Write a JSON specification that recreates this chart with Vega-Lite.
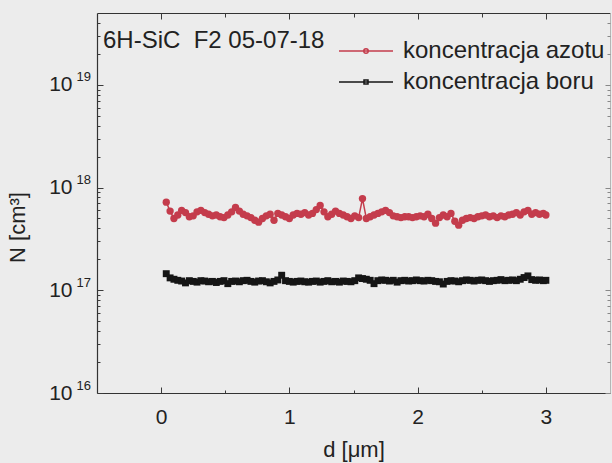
{
  "$schema": "https://vega.github.io/schema/vega-lite/v6.json",
  "width": 513,
  "height": 380,
  "autosize": {"type": "none"},
  "padding": {"left": 97, "top": 13, "right": 2, "bottom": 70},
  "background": "#ececec",
  "config": {
    "font": "Liberation Sans",
    "view": {"stroke": null},
    "axis": {"grid": false, "labelFont": "Liberation Sans", "titleFont": "Liberation Sans", "tickColor": "#3a3a3a", "tickWidth": 1}
  },
  "data": {
    "values": [
      {"d": 0.04, "azot": 7.2e17, "bor": 1.45e17},
      {"d": 0.07, "azot": 5.9e17, "bor": 1.32e17},
      {"d": 0.10, "azot": 5.0e17, "bor": 1.28e17},
      {"d": 0.13, "azot": 5.4e17, "bor": 1.25e17},
      {"d": 0.16, "azot": 6.0e17, "bor": 1.23e17},
      {"d": 0.19, "azot": 5.7e17, "bor": 1.18e17},
      {"d": 0.22, "azot": 5.2e17, "bor": 1.24e17},
      {"d": 0.25, "azot": 5.3e17, "bor": 1.22e17},
      {"d": 0.28, "azot": 5.8e17, "bor": 1.20e17},
      {"d": 0.31, "azot": 6.0e17, "bor": 1.24e17},
      {"d": 0.34, "azot": 5.7e17, "bor": 1.23e17},
      {"d": 0.37, "azot": 5.5e17, "bor": 1.21e17},
      {"d": 0.40, "azot": 5.3e17, "bor": 1.22e17},
      {"d": 0.43, "azot": 5.4e17, "bor": 1.19e17},
      {"d": 0.46, "azot": 5.2e17, "bor": 1.22e17},
      {"d": 0.49, "azot": 5.1e17, "bor": 1.24e17},
      {"d": 0.52, "azot": 5.4e17, "bor": 1.16e17},
      {"d": 0.55, "azot": 5.8e17, "bor": 1.22e17},
      {"d": 0.58, "azot": 6.4e17, "bor": 1.23e17},
      {"d": 0.61, "azot": 5.9e17, "bor": 1.21e17},
      {"d": 0.64, "azot": 5.5e17, "bor": 1.24e17},
      {"d": 0.67, "azot": 5.3e17, "bor": 1.25e17},
      {"d": 0.70, "azot": 5.1e17, "bor": 1.22e17},
      {"d": 0.73, "azot": 4.8e17, "bor": 1.20e17},
      {"d": 0.76, "azot": 4.6e17, "bor": 1.23e17},
      {"d": 0.79, "azot": 5.0e17, "bor": 1.24e17},
      {"d": 0.82, "azot": 5.3e17, "bor": 1.21e17},
      {"d": 0.85, "azot": 5.5e17, "bor": 1.18e17},
      {"d": 0.88, "azot": 4.8e17, "bor": 1.22e17},
      {"d": 0.91, "azot": 5.6e17, "bor": 1.26e17},
      {"d": 0.94, "azot": 5.4e17, "bor": 1.40e17},
      {"d": 0.97, "azot": 5.2e17, "bor": 1.24e17},
      {"d": 1.00, "azot": 5.0e17, "bor": 1.22e17},
      {"d": 1.03, "azot": 5.4e17, "bor": 1.20e17},
      {"d": 1.06, "azot": 5.6e17, "bor": 1.22e17},
      {"d": 1.09, "azot": 5.5e17, "bor": 1.23e17},
      {"d": 1.12, "azot": 5.7e17, "bor": 1.21e17},
      {"d": 1.15, "azot": 5.4e17, "bor": 1.20e17},
      {"d": 1.18, "azot": 5.6e17, "bor": 1.22e17},
      {"d": 1.21, "azot": 6.1e17, "bor": 1.23e17},
      {"d": 1.24, "azot": 6.7e17, "bor": 1.20e17},
      {"d": 1.27, "azot": 5.8e17, "bor": 1.22e17},
      {"d": 1.30, "azot": 5.2e17, "bor": 1.24e17},
      {"d": 1.33, "azot": 5.5e17, "bor": 1.21e17},
      {"d": 1.36, "azot": 5.9e17, "bor": 1.22e17},
      {"d": 1.39, "azot": 5.6e17, "bor": 1.20e17},
      {"d": 1.42, "azot": 5.4e17, "bor": 1.23e17},
      {"d": 1.45, "azot": 5.2e17, "bor": 1.22e17},
      {"d": 1.48, "azot": 5.0e17, "bor": 1.21e17},
      {"d": 1.51, "azot": 5.3e17, "bor": 1.24e17},
      {"d": 1.54, "azot": 5.1e17, "bor": 1.32e17},
      {"d": 1.57, "azot": 7.8e17, "bor": 1.30e17},
      {"d": 1.60, "azot": 5.0e17, "bor": 1.28e17},
      {"d": 1.63, "azot": 5.2e17, "bor": 1.25e17},
      {"d": 1.66, "azot": 5.4e17, "bor": 1.16e17},
      {"d": 1.69, "azot": 5.6e17, "bor": 1.24e17},
      {"d": 1.72, "azot": 5.8e17, "bor": 1.26e17},
      {"d": 1.75, "azot": 6.0e17, "bor": 1.25e17},
      {"d": 1.78, "azot": 5.7e17, "bor": 1.23e17},
      {"d": 1.81, "azot": 5.3e17, "bor": 1.25e17},
      {"d": 1.84, "azot": 5.2e17, "bor": 1.20e17},
      {"d": 1.87, "azot": 5.1e17, "bor": 1.24e17},
      {"d": 1.90, "azot": 5.2e17, "bor": 1.25e17},
      {"d": 1.93, "azot": 5.2e17, "bor": 1.23e17},
      {"d": 1.96, "azot": 5.1e17, "bor": 1.24e17},
      {"d": 1.99, "azot": 5.2e17, "bor": 1.26e17},
      {"d": 2.02, "azot": 5.3e17, "bor": 1.24e17},
      {"d": 2.05, "azot": 5.2e17, "bor": 1.23e17},
      {"d": 2.08, "azot": 5.5e17, "bor": 1.25e17},
      {"d": 2.11, "azot": 5.0e17, "bor": 1.24e17},
      {"d": 2.14, "azot": 4.5e17, "bor": 1.22e17},
      {"d": 2.17, "azot": 5.1e17, "bor": 1.21e17},
      {"d": 2.20, "azot": 5.4e17, "bor": 1.15e17},
      {"d": 2.23, "azot": 5.2e17, "bor": 1.22e17},
      {"d": 2.26, "azot": 5.6e17, "bor": 1.24e17},
      {"d": 2.29, "azot": 4.7e17, "bor": 1.23e17},
      {"d": 2.32, "azot": 4.3e17, "bor": 1.21e17},
      {"d": 2.35, "azot": 4.8e17, "bor": 1.24e17},
      {"d": 2.38, "azot": 5.0e17, "bor": 1.26e17},
      {"d": 2.41, "azot": 5.1e17, "bor": 1.25e17},
      {"d": 2.44, "azot": 5.0e17, "bor": 1.23e17},
      {"d": 2.47, "azot": 5.2e17, "bor": 1.25e17},
      {"d": 2.50, "azot": 5.3e17, "bor": 1.26e17},
      {"d": 2.53, "azot": 5.4e17, "bor": 1.24e17},
      {"d": 2.56, "azot": 5.2e17, "bor": 1.22e17},
      {"d": 2.59, "azot": 5.3e17, "bor": 1.24e17},
      {"d": 2.62, "azot": 5.1e17, "bor": 1.25e17},
      {"d": 2.65, "azot": 5.3e17, "bor": 1.27e17},
      {"d": 2.68, "azot": 5.2e17, "bor": 1.24e17},
      {"d": 2.71, "azot": 5.4e17, "bor": 1.25e17},
      {"d": 2.74, "azot": 5.5e17, "bor": 1.26e17},
      {"d": 2.77, "azot": 5.7e17, "bor": 1.24e17},
      {"d": 2.80, "azot": 5.4e17, "bor": 1.28e17},
      {"d": 2.83, "azot": 5.8e17, "bor": 1.33e17},
      {"d": 2.86, "azot": 6.0e17, "bor": 1.38e17},
      {"d": 2.89, "azot": 5.5e17, "bor": 1.27e17},
      {"d": 2.92, "azot": 5.7e17, "bor": 1.25e17},
      {"d": 2.95, "azot": 5.5e17, "bor": 1.26e17},
      {"d": 2.98, "azot": 5.6e17, "bor": 1.24e17},
      {"d": 3.00, "azot": 5.4e17, "bor": 1.25e17}
    ]
  },
  "layer": [
    {
      "transform": [{"fold": ["azot", "bor"], "as": ["s", "N"]}],
      "mark": {"type": "line", "strokeWidth": 1.5},
      "encoding": {
        "x": {
          "field": "d", "type": "quantitative",
          "scale": {"domain": [-0.5, 3.5], "nice": false, "zero": false},
          "axis": {
            "orient": "bottom", "values": [0, 1, 2, 3], "format": "d",
            "ticks": false, "tickSize": 0,
            "labelFontSize": 21, "labelColor": "#222", "labelPadding": 13,
            "labelFlush": false, "labelOverlap": false,
            "domainColor": "#333", "domainWidth": 1.2,
            "title": "d [μm]", "titleFontSize": 22, "titleFontWeight": "normal", "titleColor": "#222",
            "titleY": 56, "titleBaseline": "middle"
          }
        },
        "y": {
          "field": "N", "type": "quantitative",
          "scale": {"type": "log", "domain": [1e16, 5e19], "nice": false},
          "axis": {
            "orient": "left", "values": [1e16, 1e17, 1e18, 1e19],
            "ticks": false, "tickSize": 0,
            "labelExpr": "'10'",
            "labelFontSize": 21, "labelColor": "#222", "labelPadding": 25,
            "labelFlush": false, "labelOverlap": false, "labelBound": false,
            "domainColor": "#333", "domainWidth": 1.2,
            "title": "N [cm³]", "titleFontSize": 22, "titleFontWeight": "normal", "titleColor": "#222",
            "titleX": -80, "titleY": 214, "titleAlign": "center", "titleBaseline": "middle"
          }
        },
        "color": {
          "field": "s", "type": "nominal",
          "scale": {"domain": ["azot", "bor"], "range": ["#c43c4c", "#151515"]}
        }
      }
    },
    {
      "transform": [{"fold": ["azot", "bor"], "as": ["s", "N"]}, {"filter": "datum.s == 'azot'"}],
      "mark": {"type": "point", "filled": true, "shape": "circle", "size": 54, "opacity": 1, "color": "#c43c4c"},
      "encoding": {
        "x": {
          "field": "d", "type": "quantitative",
          "scale": {"domain": [-0.5, 3.5], "nice": false, "zero": false},
          "axis": {"orient": "top", "values": [0, 1, 2, 3], "ticks": false, "labels": false, "domainColor": "#333", "domainWidth": 1.2, "title": null}
        },
        "y": {
          "field": "N", "type": "quantitative",
          "scale": {"type": "log", "domain": [1e16, 5e19], "nice": false},
          "axis": {"orient": "right", "values": [1e16, 1e17, 1e18, 1e19], "ticks": false, "labels": false, "domainColor": "#b5b5b5", "domainWidth": 1, "title": null}
        }
      }
    },
    {
      "transform": [{"fold": ["azot", "bor"], "as": ["s", "N"]}, {"filter": "datum.s == 'bor'"}],
      "mark": {"type": "point", "filled": true, "shape": "square", "size": 48, "opacity": 1, "color": "#151515"},
      "encoding": {
        "x": {
          "field": "d", "type": "quantitative",
          "scale": {"domain": [-0.5, 3.5], "nice": false, "zero": false},
          "axis": {"orient": "bottom", "values": [0, 1, 2, 3], "tickSize": 6, "offset": -6, "labels": false, "domain": false, "title": null}
        },
        "y": {
          "field": "N", "type": "quantitative",
          "scale": {"type": "log", "domain": [1e16, 5e19], "nice": false},
          "axis": {"orient": "left", "values": [1e16, 1e17, 1e18, 1e19], "tickSize": 6, "offset": -6, "labels": false, "domain": false, "title": null}
        }
      }
    },
    {
      "data": {"values": [{"s": "azot"}, {"s": "bor"}]},
      "mark": {"type": "point", "filled": false, "clip": true, "strokeWidth": 1.5, "opacity": 1},
      "encoding": {
        "x": {
          "datum": -10, "type": "quantitative",
          "scale": {"domain": [-0.5, 3.5], "nice": false, "zero": false},
          "axis": {"orient": "top", "values": [0, 1, 2, 3], "tickSize": 6, "offset": -6, "labels": false, "domain": false, "title": null}
        },
        "y": {
          "datum": 1e17, "type": "quantitative",
          "scale": {"type": "log", "domain": [1e16, 5e19], "nice": false},
          "axis": {"orient": "right", "values": [1e16, 1e17, 1e18, 1e19], "tickSize": 5, "offset": -5, "tickColor": "#888", "labels": false, "domain": false, "title": null}
        },
        "color": {
          "field": "s", "type": "nominal",
          "scale": {"domain": ["azot", "bor"], "range": ["#c43c4c", "#151515"]},
          "legend": {
            "orient": "none", "legendX": 257, "legendY": 26, "title": null, "padding": 0,
            "labelFontSize": 24, "labelColor": "#222", "labelLimit": 0, "labelOffset": 25,
            "rowPadding": 7, "symbolSize": 100, "symbolStrokeWidth": 1.5,
            "labelExpr": "datum.value == 'azot' ? 'koncentracja azotu' : 'koncentracja boru'"
          }
        },
        "shape": {
          "field": "s", "type": "nominal",
          "scale": {"domain": ["azot", "bor"], "range": ["M-5.4,0H5.4M0.45,0A0.45,0.45,0,1,1,-0.45,0A0.45,0.45,0,1,1,0.45,0Z", "M-5.4,0H5.4M-0.4,-0.4H0.4V0.4H-0.4Z"]},
          "legend": {
            "orient": "none", "legendX": 257, "legendY": 26, "title": null, "padding": 0,
            "labelFontSize": 24, "labelColor": "#222", "labelLimit": 0, "labelOffset": 25,
            "rowPadding": 7, "symbolSize": 100, "symbolStrokeWidth": 1.5,
            "labelExpr": "datum.value == 'azot' ? 'koncentracja azotu' : 'koncentracja boru'"
          }
        }
      }
    },
    {
      "data": {"values": [{"label": "6H-SiC\u00a0\u00a0F2 05-07-18"}]},
      "mark": {"type": "text", "align": "left", "baseline": "alphabetic", "dx": 6, "dy": 35, "fontSize": 24, "color": "#222"},
      "encoding": {
        "x": {
          "datum": -0.5, "type": "quantitative",
          "scale": {"domain": [-0.5, 3.5], "nice": false, "zero": false},
          "axis": {"orient": "bottom", "values": [0.5, 1.5, 2.5], "tickSize": 3, "offset": -3, "labels": false, "domain": false, "title": null}
        },
        "y": {
          "datum": 5e19, "type": "quantitative",
          "scale": {"type": "log", "domain": [1e16, 5e19], "nice": false},
          "axis": {
            "orient": "left", "values": [1e16, 1e17, 1e18, 1e19],
            "ticks": false, "tickSize": 0, "domain": false,
            "labelExpr": "'' + round(log(datum.value)/LN10)",
            "labelAlign": "left", "labelBaseline": "bottom", "labelOffset": -1,
            "labelFontSize": 13, "labelColor": "#222", "labelPadding": 21,
            "labelFlush": false, "labelOverlap": false, "labelBound": false,
            "title": null
          }
        },
        "text": {"field": "label"}
      }
    },
    {
      "data": {"values": [{"label": ""}]},
      "mark": {"type": "text"},
      "encoding": {
        "x": {
          "datum": 0, "type": "quantitative",
          "scale": {"domain": [-0.5, 3.5], "nice": false, "zero": false},
          "axis": {"orient": "top", "values": [0.5, 1.5, 2.5], "tickSize": 4, "offset": -4, "labels": false, "domain": false, "title": null}
        },
        "y": {
          "datum": 1e17, "type": "quantitative",
          "scale": {"type": "log", "domain": [1e16, 5e19], "nice": false},
          "axis": {
            "orient": "left",
            "values": [2e16, 3e16, 4e16, 5e16, 6e16, 7e16, 8e16, 9e16, 2e17, 3e17, 4e17, 5e17, 6e17, 7e17, 8e17, 9e17, 2e18, 3e18, 4e18, 5e18, 6e18, 7e18, 8e18, 9e18, 2e19, 3e19, 4e19],
            "tickSize": 3, "offset": -3, "labels": false, "domain": false, "title": null
          }
        },
        "text": {"field": "label"}
      }
    },
    {
      "data": {"values": [{"label": ""}]},
      "mark": {"type": "text"},
      "encoding": {
        "x": {
          "datum": 0, "type": "quantitative",
          "scale": {"domain": [-0.5, 3.5], "nice": false, "zero": false},
          "axis": null
        },
        "y": {
          "datum": 1e17, "type": "quantitative",
          "scale": {"type": "log", "domain": [1e16, 5e19], "nice": false},
          "axis": {
            "orient": "right",
            "values": [2e16, 3e16, 4e16, 5e16, 6e16, 7e16, 8e16, 9e16, 2e17, 3e17, 4e17, 5e17, 6e17, 7e17, 8e17, 9e17, 2e18, 3e18, 4e18, 5e18, 6e18, 7e18, 8e18, 9e18, 2e19, 3e19, 4e19],
            "tickSize": 3, "offset": -3, "tickColor": "#888", "labels": false, "domain": false, "title": null
          }
        },
        "text": {"field": "label"}
      }
    }
  ],
  "resolve": {"axis": {"x": "independent", "y": "independent"}}
}
